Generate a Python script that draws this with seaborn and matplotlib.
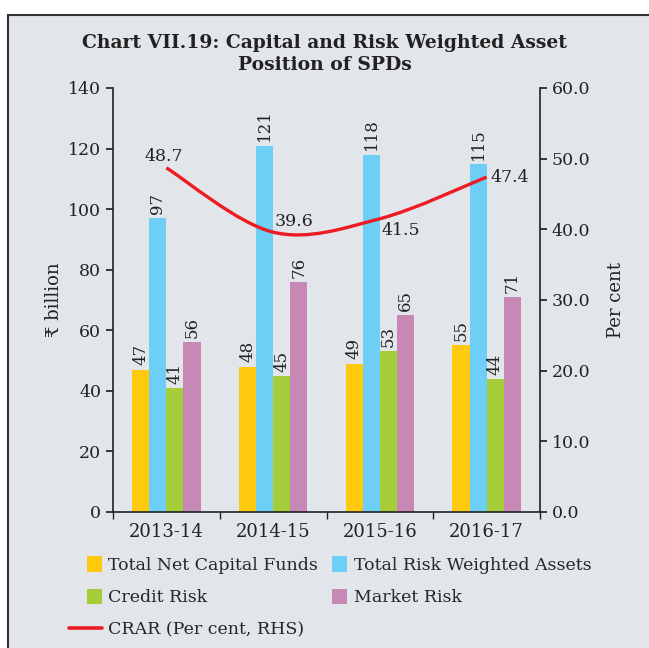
import numpy as np
import pandas as pd
import seaborn as sns
import matplotlib.pyplot as plt
from matplotlib.patches import Rectangle, Patch, PathPatch
from matplotlib.lines import Line2D
from matplotlib.path import Path
from matplotlib.legend_handler import HandlerPatch

# Data
years = ["2013-14", "2014-15", "2015-16", "2016-17"]
net_capital = [47, 48, 49, 55]
risk_weighted = [97, 121, 118, 115]
credit_risk = [41, 45, 53, 44]
market_risk = [56, 76, 65, 71]
crar = [48.7, 39.6, 41.5, 47.4]

series_names = ["Total Net Capital Funds", "Total Risk Weighted Assets",
                "Credit Risk", "Market Risk"]
colors = ["#FFC90E", "#6DCFF6", "#A5CD39", "#C888B5"]
red = "#ED1C24"
ink = "#222222"

df = pd.DataFrame({
    "year": years * 4,
    "series": np.repeat(series_names, 4),
    "value": net_capital + risk_weighted + credit_risk + market_risk,
})

sns.set_theme(style="white")
plt.rcParams['font.family'] = ['DejaVu Serif', 'DejaVu Sans']
bg = "#e2e5e9"

fig = plt.figure(figsize=(6.49, 6.48), dpi=100)
fig.patch.set_facecolor("white")
fig.patches.append(Rectangle((8 / 649, -0.01), 1.0, 1 - 15 / 648 + 0.01,
                             transform=fig.transFigure, facecolor=bg,
                             edgecolor="#333333", linewidth=1.5, zorder=-10))

ax = fig.add_axes([113 / 649, 1 - 512 / 648, 427 / 649, 424 / 648])
ax.set_facecolor("none")
sns.barplot(data=df, x="year", y="value", hue="series", hue_order=series_names,
            palette=colors, width=0.64, gap=0, saturation=1, ax=ax, legend=False,
            edgecolor="none", linewidth=0)

for cont in ax.containers:
    ax.bar_label(cont, labels=[f"{v:.0f}" for v in cont.datavalues],
                 rotation=90, padding=3, fontsize=12, color=ink)

ax.set_ylim(0, 140)
ax.set_yticks(range(0, 141, 20))
ax.set_xlim(-0.5, 3.5)
ax.set_xlabel("")
ax.set_ylabel("₹ billion", fontsize=13, labelpad=4, color=ink)
ax.tick_params(axis="y", labelsize=12.5, length=5, direction="out", left=True,
               colors=ink)
ax.tick_params(axis="x", labelsize=13, length=0, pad=8, colors=ink)
ax.set_xticks([-0.5, 0.5, 1.5, 2.5, 3.5], minor=True)
ax.tick_params(axis="x", which="minor", length=5, direction="out", bottom=True,
               colors=ink)
for s in ["top", "right"]:
    ax.spines[s].set_visible(False)
for s in ["left", "bottom"]:
    ax.spines[s].set_color(ink)
    ax.spines[s].set_linewidth(1.2)

# Right axis: CRAR
ax2 = ax.twinx()
ax2.set_ylim(0, 60)
ax2.set_yticks(np.arange(0, 61, 10))
ax2.set_yticklabels([f"{v:.1f}" for v in np.arange(0, 61, 10)])
ax2.tick_params(axis="y", labelsize=12.5, length=5, direction="out", right=True,
                colors=ink)
ax2.set_ylabel("Per cent", fontsize=13, labelpad=12, color=ink)
for s in ["top", "left", "bottom"]:
    ax2.spines[s].set_visible(False)
ax2.spines["right"].set_color(ink)
ax2.spines["right"].set_linewidth(1.2)

# smooth curve through CRAR points (cubic Bezier, Catmull-Rom style)
xs = np.arange(len(crar), dtype=float)
ys = np.array(crar)
verts = [(xs[0], ys[0])]
codes = [Path.MOVETO]
for i in range(len(xs) - 1):
    x0, y0 = (xs[i - 1], ys[i - 1]) if i > 0 else (xs[i], ys[i])
    x3, y3 = (xs[i + 2], ys[i + 2]) if i + 2 < len(xs) else (xs[i + 1], ys[i + 1])
    c1 = (xs[i] + (xs[i + 1] - x0) / 6, ys[i] + (ys[i + 1] - y0) / 6)
    c2 = (xs[i + 1] - (x3 - xs[i]) / 6, ys[i + 1] - (y3 - ys[i]) / 6)
    verts += [c1, c2, (xs[i + 1], ys[i + 1])]
    codes += [Path.CURVE4] * 3
ax2.add_patch(PathPatch(Path(verts, codes), facecolor="none",
                        edgecolor=red, linewidth=2.4))

offsets = [(-0.02, 1.6), (0.2, 1.45), (0.2, -1.6), (0.22, 0.0)]
for i, v in enumerate(crar):
    dx, dy = offsets[i]
    ax2.text(xs[i] + dx, v + dy, f"{v:.1f}", fontsize=12.5, ha="center",
             va="center", color=ink)

fig.text(0.5, 1 - 34 / 648,
         "Chart VII.19: Capital and Risk Weighted Asset\nPosition of SPDs",
         ha="center", va="top", fontsize=13.5, fontweight="bold",
         linespacing=1.25, color=ink)


def small_square(legend, orig_handle, xdescent, ydescent, width, height, fontsize):
    s = 11
    return Rectangle((-xdescent + width - s, -ydescent + (height - s) / 2), s, s)


patches = [Patch(facecolor=c, edgecolor="none") for c in colors]
crar_line = Line2D([0], [0], color=red, linewidth=2.6)
# column-wise fill: col 1 = TNCF, Credit, CRAR; col 2 = TRWA, Market
handles = [patches[0], patches[2], crar_line, patches[1], patches[3]]
labels = [series_names[0], series_names[2], "CRAR (Per cent, RHS)",
          series_names[1], series_names[3]]
fig.legend(handles, labels, loc="upper left", ncol=2,
           bbox_to_anchor=(69 / 649, 1 - 557 / 648), frameon=False,
           fontsize=12.5, handlelength=1.9, handleheight=0.8,
           handletextpad=0.35, columnspacing=-0.2, labelspacing=0.88,
           borderpad=0, borderaxespad=0,
           handler_map={Patch: HandlerPatch(patch_func=small_square)})

fig.savefig("out.png", dpi=100, facecolor=fig.get_facecolor())
